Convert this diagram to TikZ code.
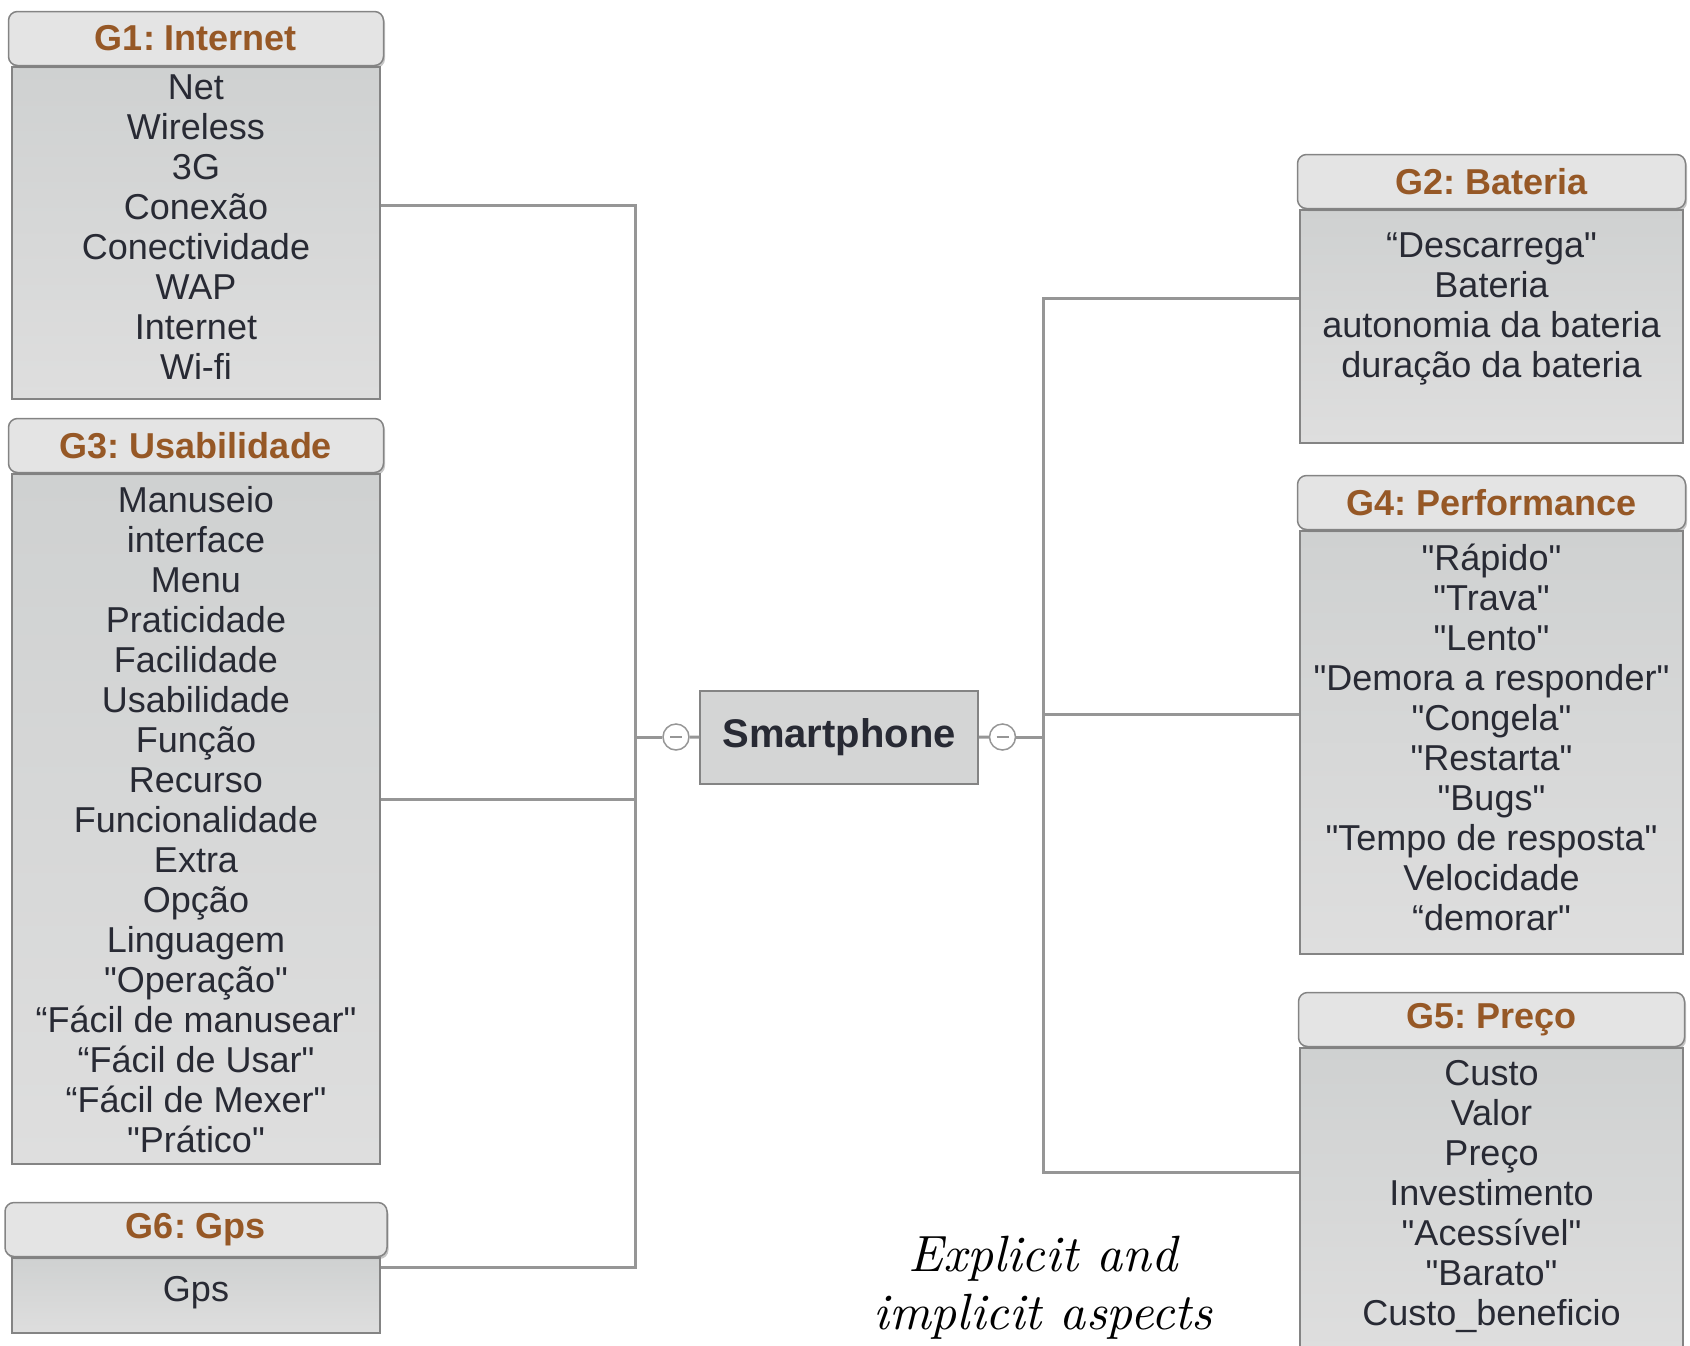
\documentclass[tikz,border=0pt]{standalone}
\usepackage{fontspec}
\newfontfamily\mapfont{Liberation Sans}
\newfontfamily\notefont{lmroman10-italic.otf}
\frenchspacing
\usetikzlibrary{positioning,fit,shadows}
\definecolor{mapHeadBrown}{RGB}{150,88,38}
\definecolor{mapInk}{RGB}{40,42,52}
\definecolor{mapLine}{RGB}{150,150,150}
\definecolor{mapBorder}{RGB}{132,132,132}
\definecolor{mapBodyTop}{RGB}{207,209,209}
\definecolor{mapBodyBot}{RGB}{222,222,222}
\definecolor{mapHead}{RGB}{228,228,228}
\definecolor{mapPhone}{RGB}{212,213,213}

\begin{document}
\begin{tikzpicture}[
  x=1pt,y=-1pt,
  grpbody/.style={
    draw=mapBorder,
    line width=1.5pt,
    top color=mapBodyTop,
    bottom color=mapBodyBot,
    inner sep=0pt
  },
  grphead/.style={
    draw=mapBorder,
    line width=1.5pt,
    fill=mapHead,
    rounded corners=9pt,
    minimum height=54pt,
    inner sep=0pt,
    text=mapHeadBrown,
    font=\mapfont\bfseries\fontsize{36}{40}\selectfont,
    drop shadow={shadow xshift=1.5pt,shadow yshift=-2.5pt,opacity=0.45}
  },
  items/.style={
    align=center,
    inner sep=0pt,
    text=mapInk,
    font=\mapfont\fontsize{36}{40}\selectfont
  },
  group/.style={fit=#1,inner sep=0pt},
  phonebox/.style={
    draw=mapBorder,
    line width=1.5pt,
    fill=mapPhone,
    minimum width=278pt,
    minimum height=93pt,
    text=mapInk,
    font=\mapfont\bfseries\fontsize{40}{44}\selectfont
  },
  toggle/.style={
    circle,
    draw=mapLine,
    line width=1.5pt,
    fill=white,
    minimum size=26pt,
    inner sep=0pt,
    path picture={\draw[mapLine,line width=1.5pt]
      ([xshift=-6pt]path picture bounding box.center) --
      ([xshift=6pt]path picture bounding box.center);}
  },
  link/.style={draw=mapLine,line width=3pt},
  note/.style={align=center,inner sep=0pt,font=\notefont\fontsize{51}{58}\selectfont}
]
  \useasboundingbox (0,0) rectangle (1690,1345);

  % left column
  \node[grpbody,minimum width=368pt,minimum height=332pt] (g1body) at (196,233) {};
  \node[grphead,minimum width=375pt,above=0pt of g1body] (g1head) {G1: Internet};
  \node[items] (g1items) at (196,231) {Net\strut\\Wireless\\3G\\Conexão\\Conectividade\\WAP\\Internet\\Wi-fi\strut};

  \node[grpbody,minimum width=368pt,minimum height=690pt] (g3body) at (196,819) {};
  \node[grphead,minimum width=375pt,above=0pt of g3body] (g3head) {G3: Usabilidade};
  \node[items] (g3items) at (196,824) {Manuseio\strut\\interface\\Menu\\Praticidade\\Facilidade\\Usabilidade\\Função\\Recurso\\Funcionalidade\\Extra\\Opção\\Linguagem\\"Operação"\\“Fácil de manusear"\\“Fácil de Usar"\\“Fácil de Mexer"\\"Prático"\strut};

  \node[grpbody,minimum width=368pt,minimum height=75pt] (g6body) at (196,1295.5) {};
  \node[grphead,minimum width=382pt,above=0pt of g6body] (g6head) {G6: Gps};
  \node[items] (g6items) at (196,1293) {Gps\strut};

  % right column
  \node[grpbody,minimum width=383pt,minimum height=233pt] (g2body) at (1491.5,326.5) {};
  \node[grphead,minimum width=388pt,above=0pt of g2body] (g2head) {G2: Bateria};
  \node[items] (g2items) at (1491.5,309) {“Descarrega"\strut\\Bateria\\autonomia da bateria\\duração da bateria\strut};

  \node[grpbody,minimum width=383pt,minimum height=423pt] (g4body) at (1491.5,742.5) {};
  \node[grphead,minimum width=388pt,above=0pt of g4body] (g4head) {G4: Performance};
  \node[items] (g4items) at (1491.5,742) {"Rápido"\strut\\"Trava"\\"Lento"\\"Demora a responder"\\"Congela"\\"Restarta"\\"Bugs"\\"Tempo de resposta"\\Velocidade\\“demorar"\strut};

  \node[grpbody,minimum width=383pt,minimum height=304pt] (g5body) at (1491.5,1200) {};
  \node[grphead,minimum width=386pt,above=0pt of g5body] (g5head) {G5: Preço};
  \node[items] (g5items) at (1491.5,1197) {Custo\strut\\Valor\\Preço\\Investimento\\"Acessível"\\"Barato"\\Custo\_beneficio\strut};

  % whole groups, for the connectors
  \node[group={(g1body)(g1head.north)}] (g1) {};
  \node[group={(g3body)(g3head.north)}] (g3) {};
  \node[group={(g6body)(g6head.north)}] (g6) {};
  \node[group={(g2body)(g2head.north)}] (g2) {};
  \node[group={(g4body)(g4head.north)}] (g4) {};
  \node[group={(g5body)(g5head.north)}] (g5) {};

  % centre
  \node[phonebox] (phone) at (839,737.5) {Smartphone};
  \node[toggle] (ltog) at (676,737) {};
  \node[toggle] (rtog) at (1002.5,737) {};
  \coordinate (lhub) at (635,737);
  \coordinate (rhub) at (1043,737);

  \draw[link] (phone) -- (ltog);
  \draw[link] (ltog) -- (lhub);
  \draw[link] (phone) -- (rtog);
  \draw[link] (rtog) -- (rhub);
  \draw[link] (g1.east) -| (lhub);
  \draw[link] ([yshift=-8pt]g3.east) -- ([yshift=-8pt]g3.east -| lhub);
  \draw[link] (g6.east) -| (lhub);
  \draw[link] (g2.west) -| (rhub);
  \draw[link] (g4.west) -- (g4.west -| rhub);
  \draw[link] (g5.west) -| (rhub);

  \node[note] (caption) at (1043,1288) {Explicit and\\implicit aspects};
\end{tikzpicture}
\end{document}
